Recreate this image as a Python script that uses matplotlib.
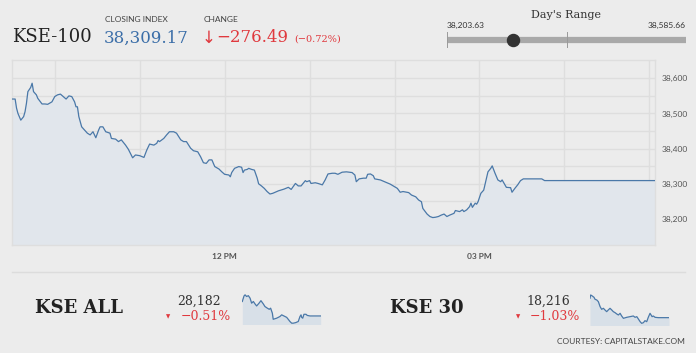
import matplotlib
matplotlib.use("Agg")
import matplotlib.pyplot as plt
import matplotlib.dates as mdates
from matplotlib.ticker import FixedLocator, FuncFormatter
import pandas as pd

# ---------------- data ----------------
kse100_times = ["09:30","09:32","09:33","09:34","09:36","09:38","09:39","09:40","09:41","09:43",
    "09:44","09:45","09:47","09:48","09:51","09:53","09:55","09:58","10:00","10:02",
    "10:04","10:06","10:08","10:10","10:12","10:14","10:15","10:16","10:17","10:19",
    "10:21","10:23","10:25","10:27","10:29","10:31","10:32","10:34","10:36","10:39",
    "10:40","10:43","10:45","10:47","10:50","10:52","10:55","10:57","11:00","11:03",
    "11:05","11:07","11:10","11:12","11:13","11:14","11:17","11:19","11:21","11:24",
    "11:26","11:29","11:31","11:33","11:36","11:38","11:41","11:43","11:45","11:47",
    "11:49","11:51","11:53","11:56","11:58","12:00","12:03","12:04","12:05","12:07",
    "12:10","12:12","12:13","12:14","12:16","12:17","12:19","12:21","12:23","12:24",
    "12:26","12:28","12:30","12:32","12:34","12:38","12:42","12:45","12:47","12:50",
    "12:52","12:54","12:57","12:58","13:00","13:01","13:04","13:06","13:09","13:11",
    "13:13","13:16","13:18","13:20","13:23","13:26","13:30","13:32","13:33","13:35",
    "13:38","13:40","13:41","13:43","13:45","13:46","13:50","13:53","13:57","14:00",
    "14:02","14:04","14:06","14:10","14:12","14:15","14:17","14:19","14:20","14:23",
    "14:25","14:27","14:29","14:31","14:33","14:35","14:37","14:39","14:42","14:43",
    "14:46","14:48","14:49","14:51","14:53","14:54","14:55","14:57","14:58","14:59",
    "15:01","15:03","15:05","15:06","15:08","15:09","15:11","15:13","15:15","15:16",
    "15:18","15:19","15:22","15:23","15:25","15:27","15:28","15:29","15:31","15:44",
    "15:46","17:04"]
kse100_values = [38541,38541,38515,38500,38481,38491,38505,38529,38562,38574,
    38586,38562,38553,38543,38527,38527,38526,38533,38548,38553,
    38555,38548,38541,38550,38548,38533,38519,38519,38491,38462,
    38453,38444,38439,38448,38431,38453,38462,38462,38448,38444,
    38429,38427,38420,38425,38410,38398,38374,38382,38380,38375,
    38396,38413,38410,38415,38423,38420,38429,38439,38448,38448,
    38444,38425,38420,38420,38401,38394,38391,38377,38360,38358,
    38368,38368,38349,38342,38334,38327,38325,38320,38332,38344,
    38349,38347,38332,38339,38341,38344,38341,38339,38316,38300,
    38294,38287,38278,38271,38273,38280,38285,38290,38284,38301,
    38294,38294,38309,38306,38309,38301,38303,38301,38297,38311,
    38328,38330,38330,38327,38333,38334,38332,38325,38306,38314,
    38316,38316,38327,38328,38323,38314,38311,38306,38299,38292,
    38287,38276,38278,38275,38268,38263,38254,38249,38230,38214,
    38207,38204,38205,38207,38211,38214,38207,38211,38216,38224,
    38221,38226,38221,38226,38235,38245,38233,38245,38242,38249,
    38273,38282,38316,38334,38344,38351,38330,38311,38306,38311,
    38297,38290,38289,38276,38287,38297,38303,38309,38314,38314,
    38309.17,38309.17]

kse_all_times = ["09:30","09:40","09:46","09:55","10:05","10:15","10:24","10:34","10:44","10:53",
    "11:07","11:18","11:32","11:41","11:55","12:06","12:14","12:24","12:29","12:49",
    "13:08","13:18","13:31","13:47","13:56","14:06","14:16","14:25","14:39","14:54",
    "15:04","15:10","15:14","15:20","15:27","15:39","15:46","16:02","17:04"]
kse_all_values = [28234,28254,28258,28252,28255,28246,28228,28234,28225,28218,
    28228,28237,28225,28216,28210,28206,28210,28192,28170,28174,
    28180,28186,28182,28177,28170,28162,28156,28156,28158,28162,
    28180,28186,28177,28174,28188,28188,28184,28182,28182]

kse30_times = ["09:30","09:34","09:43","09:53","09:59","10:09","10:18","10:28","10:37","10:47",
    "10:56","11:06","11:15","11:25","11:35","11:44","11:54","12:04","12:13","12:23",
    "12:32","12:42","13:01","13:20","13:39","13:49","13:59","14:08","14:18","14:27",
    "14:37","14:46","14:56","15:05","15:15","15:21","15:27","15:34","15:44","16:03","17:04"]
kse30_values = [18274,18284,18281,18277,18271,18269,18264,18249,18241,18244,
    18239,18234,18239,18244,18239,18234,18231,18227,18224,18229,
    18221,18214,18217,18219,18221,18217,18219,18212,18204,18199,
    18201,18207,18204,18217,18229,18224,18219,18221,18217,18216,18216]

closing_index = "38,309.17"
change_value = "276.49"
change_pct = "0.72%"
day_low, day_high, day_close = 38203.63, 38585.66, 38309.17
kse_all_close, kse_all_pct = "28,182", "0.51%"
kse30_close, kse30_pct = "18,216", "1.03%"
y_ticks = [38150, 38200, 38250, 38300, 38350, 38400, 38450, 38500, 38550, 38600]
y_labels = {38200: "38,200", 38300: "38,300", 38400: "38,400", 38500: "38,500", 38600: "38,600"}
x_label_hours = {12: "12 PM", 15: "03 PM"}

# ---------------- style ----------------
W, H = 696, 353
BG = "#ececec"
GRID = "#dedede"
LINE = "#4a78a8"
FILL = "#e1e6ec"
RED = "#e0393e"
BLUE = "#3b6ea8"
DARK = "#222222"
SERIF = "DejaVu Serif"
SANS = "Lato"

def fx(x):
    return x / W

def fy(y):
    return 1 - y / H

def to_dt(ts):
    return pd.to_datetime(["2019-05-07 " + t for t in ts])

fig = plt.figure(figsize=(W / 100, H / 100), dpi=100, facecolor=BG)

# ---------------- main chart ----------------
L, R, T, B = 12.3, 655, 60, 245
ax = fig.add_axes([fx(L), fy(B), (R - L) / W, (B - T) / H])
ax.set_facecolor(BG)
t100 = to_dt(kse100_times)
ax.fill_between(t100, kse100_values, 38000, color=FILL, lw=0, zorder=2)
ax.plot(t100, kse100_values, color=LINE, lw=0.9, zorder=3, solid_joinstyle="round")
ax.set_ylim(38126, 38652)
ax.set_xlim(pd.Timestamp("2019-05-07 09:30"), pd.Timestamp("2019-05-07 17:04"))

ax.yaxis.tick_right()
ax.yaxis.set_major_locator(FixedLocator(y_ticks))
ax.yaxis.set_major_formatter(FuncFormatter(lambda v, p: y_labels.get(int(round(v)), "")))
ax.xaxis.set_major_locator(mdates.HourLocator())
ax.xaxis.set_major_formatter(FuncFormatter(lambda v, p: x_label_hours.get(mdates.num2date(v).hour, "")))
ax.tick_params(axis="both", length=0, labelsize=6, labelcolor="#555555")
ax.tick_params(axis="y", pad=5)
ax.tick_params(axis="x", pad=6)
for lab in ax.get_xticklabels() + ax.get_yticklabels():
    lab.set_fontfamily(SANS)
for lab in ax.get_xticklabels():
    lab.set_fontweight("bold")
ax.grid(True, color=GRID, lw=1, zorder=1)
for s in ax.spines.values():
    s.set_color(GRID)
    s.set_linewidth(1)

# ---------------- header ----------------
fig.text(fx(12), fy(37), "KSE-100", family=SERIF, fontsize=13, color=DARK, va="center", ha="left")
fig.text(fx(105), fy(19), "CLOSING INDEX", family=SANS, fontsize=6, color="#444444", va="center")
fig.text(fx(104), fy(38), closing_index, family=SERIF, fontsize=12, color=BLUE, va="center")
fig.text(fx(204), fy(19), "CHANGE", family=SANS, fontsize=6, color="#444444", va="center")
fig.text(fx(202), fy(38), "\u2193", family="DejaVu Sans", fontsize=12, color=RED, va="center")
fig.text(fx(216), fy(38), "\u2212" + change_value, family=SERIF, fontsize=12, color=RED, va="center")
fig.text(fx(294), fy(39.5), "(\u2212" + change_pct + ")", family=SERIF, fontsize=7, color=RED, va="center")

# Day's range
fig.text(fx(566), fy(15), "Day's Range", family=SERIF, fontsize=8, color="#333333", ha="center", va="center")
fig.text(fx(447), fy(25), f"{day_low:,.2f}", family=SANS, fontsize=6, color="#333333", ha="left", va="center")
fig.text(fx(686), fy(25), f"{day_high:,.2f}", family=SANS, fontsize=6, color="#333333", ha="right", va="center")
rax = fig.add_axes([fx(447.3), fy(48), (685.7 - 447.3) / W, 16 / H])
rax.set_xlim(day_low, day_high)
rax.set_ylim(-1, 1)
rax.axis("off")
rax.plot([day_low, day_high], [0, 0], color="#a9a9a9", lw=4.5, solid_capstyle="butt", zorder=1)
mid = (day_low + day_high) / 2
for xv in (day_low, mid, day_high):
    rax.plot([xv, xv], [-1, 1], color="#9a9a9a", lw=0.7, zorder=2)
rax.scatter([day_close], [0], s=75, color="#333333", zorder=3, clip_on=False)

# separator
sep = fig.add_axes([0, 0, 1, 1], facecolor="none")
sep.axis("off")
sep.set_xlim(0, W)
sep.set_ylim(H, 0)
sep.plot([12, 685], [272, 272], color="#dcdcdc", lw=1)

# ---------------- bottom indices ----------------
def spark(x0, x1, ytop, ybot, times, values, vbot, vtop):
    a = fig.add_axes([fx(x0), fy(ybot), (x1 - x0) / W, (ybot - ytop) / H])
    a.axis("off")
    tt = to_dt(times)
    a.fill_between(tt, values, vbot - 100, color="#d8e0e8", lw=0)
    a.plot(tt, values, color=LINE, lw=0.9)
    a.set_xlim(tt[0], tt[-1])
    a.set_ylim(vbot, vtop)
    return a

fig.text(fx(35), fy(308), "KSE ALL", family=SERIF, fontsize=13, weight="bold", color=DARK, va="center")
fig.text(fx(199), fy(301), kse_all_close, family=SERIF, fontsize=9, color="#333333", ha="center", va="center")
fig.text(fx(181), fy(317), "\u2212" + kse_all_pct, family=SERIF, fontsize=9, color=RED, ha="left", va="center")
fig.text(fx(168.5), fy(317), "\u25BC", family="DejaVu Sans", fontsize=4, color=RED, ha="center", va="center")
spark(242.3, 320.7, 294, 324.3, kse_all_times, kse_all_values, 28152, 28261)

fig.text(fx(390), fy(308), "KSE 30", family=SERIF, fontsize=13, weight="bold", color=DARK, va="center")
fig.text(fx(548.5), fy(301), kse30_close, family=SERIF, fontsize=9, color="#333333", ha="center", va="center")
fig.text(fx(530), fy(317), "\u2212" + kse30_pct, family=SERIF, fontsize=9, color=RED, ha="left", va="center")
fig.text(fx(517.7), fy(317), "\u25BC", family="DejaVu Sans", fontsize=4, color=RED, ha="center", va="center")
spark(590, 669, 293.3, 325, kse30_times, kse30_values, 18194, 18289)

fig.text(fx(685), fy(341), "COURTESY: CAPITALSTAKE.COM", family=SANS, fontsize=6, color="#444444", ha="right", va="center")

fig.savefig("out.png", dpi=100, facecolor=BG)
